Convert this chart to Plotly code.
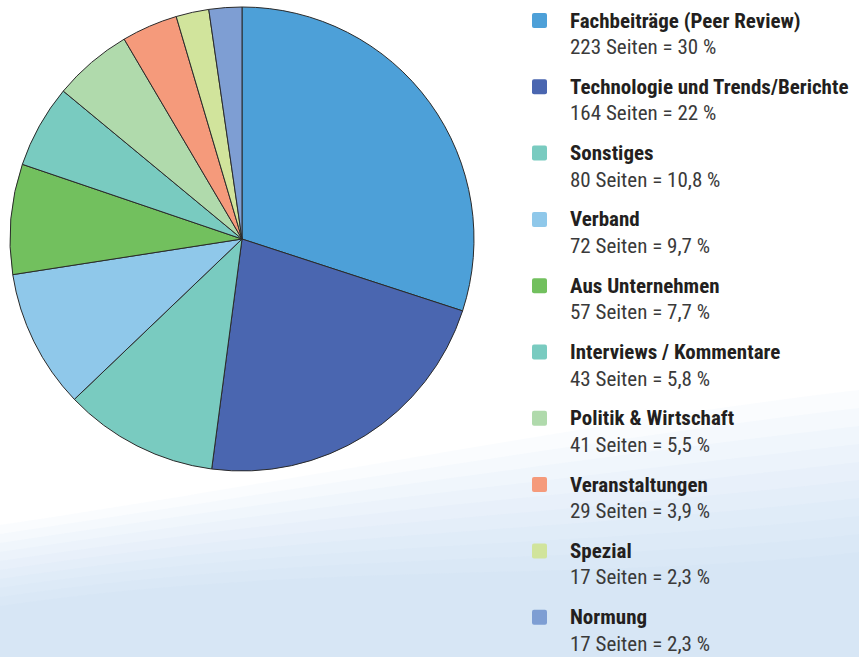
import plotly.graph_objects as go

categories = ["Fachbeiträge (Peer Review)", "Technologie und Trends/Berichte", "Sonstiges",
              "Verband", "Aus Unternehmen", "Interviews / Kommentare", "Politik & Wirtschaft",
              "Veranstaltungen", "Spezial", "Normung"]
pages = [223, 164, 80, 72, 57, 43, 41, 29, 17, 17]
percent_labels = ["30", "22", "10,8", "9,7", "7,7", "5,8", "5,5", "3,9", "2,3", "2,3"]
colors = ["#4DA0D8", "#4A66B0", "#79CBC0", "#8FC8EA", "#72C05E", "#79CBC0",
          "#B0DAAC", "#F59A7B", "#D1E49C", "#7E9ED3"]

W, H = 859, 657
FONT = "Liberation Sans Narrow, Roboto Condensed, DejaVu Sans Condensed, Arial Narrow, sans-serif"

def px(x):
    return x / W

def py(y):
    return 1 - y / H

cx, cy, r = 242, 239, 232

fig = go.Figure()
fig.add_trace(go.Pie(
    labels=categories, values=pages, sort=False, direction="clockwise",
    marker=dict(colors=colors, line=dict(color="#2a2a2a", width=1)),
    textinfo="none", hoverinfo="label+value+percent", showlegend=False,
    domain=dict(x=[px(cx - r), px(cx + r)], y=[py(cy + r), py(cy - r)]),
))

shapes = []
# subtle light-blue background: layered translucent bands rising to the right
n_layers = 10
for k in range(n_layers):
    yl = 525 + k * 9          # left edge start (px)
    yr = 390 + k * 18         # right edge start (px)
    a, d = py(yl), py(yr)
    b2 = py(yl - 45)
    c2 = py(yr + 30)
    shapes.append(dict(
        type="path", xref="paper", yref="paper", layer="below",
        path=f"M 0,{a} C 0.35,{b2} 0.7,{c2} 1,{d} L 1,0 L 0,0 Z",
        fillcolor="rgba(190,218,242,0.07)", line=dict(width=0),
    ))

annotations = []
top0, step = 20.5, 66.3
for i, (name, n, pct, col) in enumerate(zip(categories, pages, percent_labels, colors)):
    yb = top0 + i * step
    shapes.append(dict(
        type="path", xref="paper", yref="paper",
        path=(f"M {px(534)},{py(yb - 7.5)} L {px(545)},{py(yb - 7.5)} "
              f"Q {px(547)},{py(yb - 7.5)} {px(547)},{py(yb - 5.5)} L {px(547)},{py(yb + 5.5)} "
              f"Q {px(547)},{py(yb + 7.5)} {px(545)},{py(yb + 7.5)} L {px(534)},{py(yb + 7.5)} "
              f"Q {px(532)},{py(yb + 7.5)} {px(532)},{py(yb + 5.5)} L {px(532)},{py(yb - 5.5)} "
              f"Q {px(532)},{py(yb - 7.5)} {px(534)},{py(yb - 7.5)} Z"),
        fillcolor=col, line=dict(width=0),
    ))
    annotations.append(dict(
        x=px(568), y=py(yb), xref="paper", yref="paper", xanchor="left", yanchor="middle",
        text=f"<b>{name}</b>", showarrow=False,
        font=dict(family=FONT, size=21, color="#231F20"),
    ))
    annotations.append(dict(
        x=px(568), y=py(yb + 26.5), xref="paper", yref="paper", xanchor="left", yanchor="middle",
        text=f"{n} Seiten = {pct} %", showarrow=False,
        font=dict(family=FONT, size=21, color="#3a3a3a"),
    ))

fig.update_layout(
    width=W, height=H, margin=dict(l=0, r=0, t=0, b=0),
    paper_bgcolor="white", plot_bgcolor="white",
    shapes=shapes, annotations=annotations,
)
fig.write_html("out.html", config={"displayModeBar": False},
               post_script="document.body.style.margin='0';document.body.style.padding='0';document.body.style.overflow='hidden';")
